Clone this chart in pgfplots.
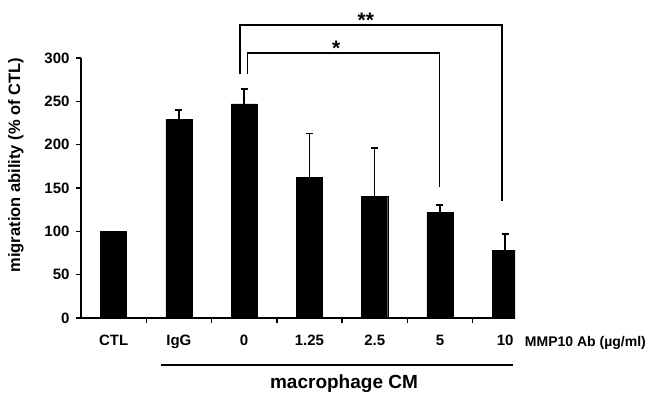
\documentclass[border=0pt]{standalone}
\usepackage{pgfplots}
\pgfplotsset{compat=1.18}
\usepackage{fontspec}
\setmainfont{Liberation Sans}
\begin{document}
\begin{tikzpicture}[x=1pt,y=1pt]
\useasboundingbox (-81,-74) rectangle (568,318);
\begin{axis}[
  at={(0pt,0pt)}, anchor=south west,
  scale only axis, width=434pt, height=260pt,
  xmin=-0.5, xmax=6.15, ymin=0, ymax=300,
  axis lines*=left,
  axis line style={line width=1.6pt},
  clip=true, clip mode=individual,
  tick align=outside,
  major tick length=5pt, minor tick length=5pt,
  every tick/.style={black, line width=1.5pt},
  ytick={0,50,...,300},
  xtick={0,...,6},
  xticklabels={CTL,IgG,0,1.25,2.5,5,10},
  major x tick style={draw=none},
  minor xtick={0.5,1.5,...,5.5},
  ticklabel style={font=\fontsize{15}{17}\selectfont\bfseries},
  /pgf/number format/assume math mode=true,
  xticklabel style={anchor=base, yshift=-22pt},
  yticklabel style={xshift=-3pt},
  ylabel={migration ability (\% of CTL)},
  ylabel style={font=\fontsize{16.5}{18}\selectfont\bfseries, at={(axis description cs:-0.150,0.588)}, anchor=center},
]
\addplot[ybar, bar width=0.4, fill=black, draw=black,
  error bars/.cd, y dir=plus, y explicit,
  error bar style={line width=1.6pt},
  error mark options={rotate=90, mark size=3.5pt, line width=1.6pt}]
  table[x=x, y=y, y error=e] {
x y e
0 100 0
1 229 11
2 247 17
3 162 51
4 140 56
5 122 8.5
6 78 19
};
\draw[line width=1.5pt] (axis cs:1.94,282) -- (axis cs:1.94,338) -- (axis cs:5.95,338) -- (axis cs:5.95,135);
\draw[line width=1.5pt] (axis cs:2.05,282) -- (axis cs:2.05,306) -- (axis cs:4.99,306) -- (axis cs:4.99,151.5);
\node[font=\fontsize{21}{23}\selectfont\bfseries, anchor=base, inner sep=0pt] at (axis cs:3.865,335.2) {**};
\node[font=\fontsize{21}{23}\selectfont\bfseries, anchor=base, inner sep=0pt] at (axis cs:3.41,302.9) {*};
\draw[line width=1.6pt] (axis cs:0.73,-54.2) -- (axis cs:6.12,-54.2);
\node[font=\fontsize{19}{21}\selectfont\bfseries, anchor=base] at (axis cs:3.53,-80.8) {macrophage CM};
\node[font=\fontsize{14}{16}\selectfont\bfseries, anchor=base west, inner sep=0pt] at (axis cs:6.30,-33.1) {MMP10 Ab (µg/ml)};
\end{axis}
\end{tikzpicture}
\end{document}
